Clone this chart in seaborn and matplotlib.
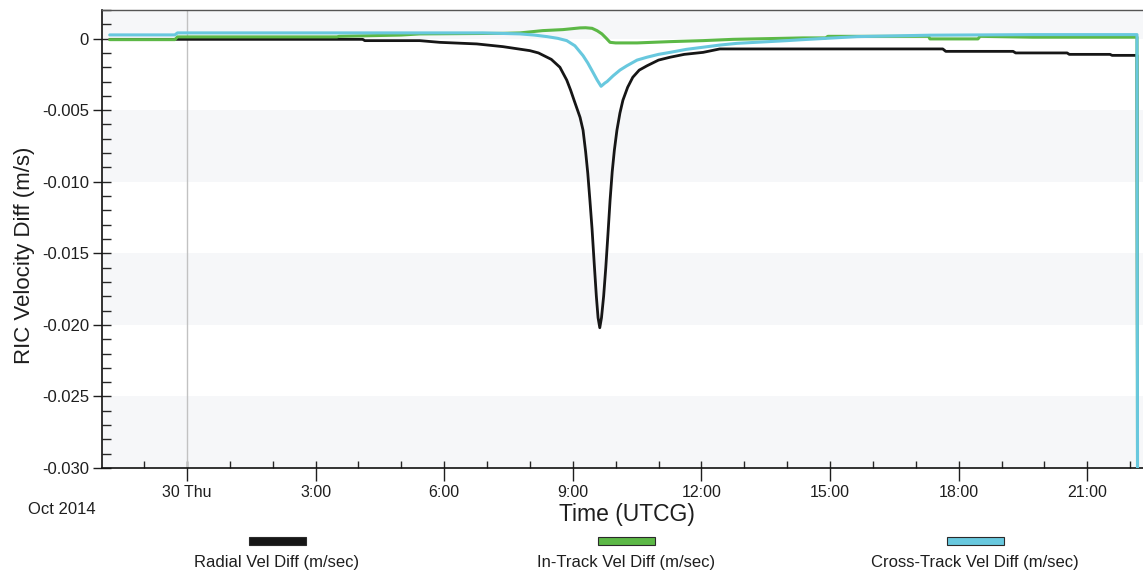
import matplotlib
matplotlib.use("Agg")
import matplotlib.pyplot as plt
from matplotlib.patches import Rectangle
from matplotlib.ticker import MultipleLocator
import seaborn as sns

# hours relative to 30 Oct 2014 00:00 UTCG
radial_t = [-1.80, 4.10, 4.15, 5.43, 5.90, 6.76, 7.37, 8.00, 8.20, 8.50, 8.70, 8.86, 8.95, 9.03,
            9.10, 9.17, 9.24, 9.30, 9.35, 9.40, 9.45, 9.50, 9.55, 9.59, 9.63, 9.67, 9.72, 9.77,
            9.82, 9.87, 9.92, 9.97, 10.03, 10.10, 10.17, 10.28, 10.40, 10.55, 10.73, 11.00,
            11.27, 11.60, 12.04, 12.43, 17.63, 17.70, 19.27, 19.33, 20.53, 20.58, 21.53, 21.58,
            22.16, 22.18]
radial_v = [-0.00005, -0.00005, -0.00014, -0.00014, -0.00026, -0.00037, -0.00056, -0.00084,
            -0.0010, -0.00145, -0.0020, -0.0029, -0.0036, -0.0043, -0.0049, -0.0055, -0.0064,
            -0.0079, -0.0094, -0.0113, -0.0133, -0.0157, -0.0180, -0.0195, -0.0202, -0.0195,
            -0.0180, -0.0160, -0.0137, -0.0113, -0.0093, -0.0078, -0.0064, -0.0052, -0.0043,
            -0.0034, -0.0027, -0.0022, -0.0019, -0.0015, -0.0013, -0.0011, -0.00096, -0.00072,
            -0.00072, -0.00089, -0.00089, -0.0010, -0.0010, -0.0011, -0.0011, -0.00117,
            -0.00117, -0.05]

intrack_t = [-1.80, -0.28, -0.22, 3.50, 3.55, 5.00, 5.43, 7.37, 7.77, 8.30, 8.77, 9.17, 9.30,
             9.45, 9.57, 9.68, 9.78, 9.87, 10.00, 10.50, 11.27, 12.04, 12.74, 14.37, 14.90,
             14.95, 17.30, 17.33, 18.45, 18.50, 19.73, 22.16, 22.18]
intrack_v = [-0.00007, -0.00007, 0.00012, 0.00012, 0.00016, 0.00025, 0.00033, 0.00037, 0.00040,
             0.00056, 0.00063, 0.00075, 0.00076, 0.00072, 0.00055, 0.00033, 0.00003, -0.00026,
             -0.00030, -0.00030, -0.00021, -0.00014, -0.00005, 0.00005, 0.00005, 0.00016,
             0.00016, -0.00002, -0.00002, 0.00016, 0.00010, 0.00010, -0.05]

cross_t = [-1.80, -0.28, -0.22, 6.90, 7.77, 8.10, 8.40, 8.65, 8.86, 9.05, 9.24, 9.35, 9.47,
           9.57, 9.66, 9.75, 9.80, 9.94, 10.10, 10.26, 10.50, 10.73, 11.00, 11.27, 11.65,
           12.04, 12.43, 12.83, 14.00, 14.37, 15.63, 17.33, 19.73, 22.16, 22.18]
cross_v = [0.00026, 0.00026, 0.00040, 0.00040, 0.00033, 0.00025, 0.00014, 0.00002, -0.00014,
           -0.0005, -0.00119, -0.0017, -0.00235, -0.0029, -0.00333, -0.0031, -0.0030, -0.0026,
           -0.0022, -0.0019, -0.0015, -0.0013, -0.0011, -0.00096, -0.00075, -0.0006, -0.00045,
           -0.00033, -0.00014, -0.00007, 0.00014, 0.00024, 0.00028, 0.00028, -0.05]

series_labels = ["Radial Vel Diff (m/sec)", "In-Track Vel Diff (m/sec)", "Cross-Track Vel Diff (m/sec)"]
series_colors = ["#161616", "#5cb846", "#68c8de"]

xtick_hours = [0, 3, 6, 9, 12, 15, 18, 21]
xtick_labels = ["30 Thu", "3:00", "6:00", "9:00", "12:00", "15:00", "18:00", "21:00"]
ytick_vals = [0, -0.005, -0.010, -0.015, -0.020, -0.025, -0.030]
ytick_labels = ["0", "-0.005", "-0.010", "-0.015", "-0.020", "-0.025", "-0.030"]

sns.set_style("white")
plt.rcParams["font.family"] = ["Liberation Sans", "DejaVu Sans"]

W, H = 1143, 573
fig = plt.figure(figsize=(W / 100, H / 100), dpi=100)
ax = fig.add_axes([102 / W, 1 - 468 / H, (W - 102) / W, 458 / H])

# alternating background bands
for lo, hi in [(0, 0.002), (-0.010, -0.005), (-0.020, -0.015), (-0.030, -0.025)]:
    ax.axhspan(lo, hi, color="#f6f7f9", lw=0, zorder=0)
ax.axvline(0, color="#c2c2c2", lw=1, zorder=1)

sns.lineplot(x=radial_t, y=radial_v, color=series_colors[0], linewidth=2.0, sort=False,
             estimator=None, ax=ax, zorder=3)
sns.lineplot(x=intrack_t, y=intrack_v, color=series_colors[1], linewidth=2.2, sort=False,
             estimator=None, ax=ax, zorder=4)
sns.lineplot(x=cross_t, y=cross_v, color=series_colors[2], linewidth=2.2, sort=False,
             estimator=None, ax=ax, zorder=5)

ax.set_xlim(-1.98, 22.30)
ax.set_ylim(-0.030, 0.002)

ax.set_xticks(xtick_hours)
ax.set_xticklabels(xtick_labels)
ax.xaxis.set_minor_locator(MultipleLocator(1))
ax.xaxis.remove_overlapping_locs = False
ax.set_yticks(ytick_vals)
ax.set_yticklabels(ytick_labels)
ax.yaxis.set_minor_locator(MultipleLocator(0.001))
ax.yaxis.remove_overlapping_locs = False

ax.tick_params(axis="x", which="major", direction="out", length=9, width=1, pad=3,
               labelsize=11.5, colors="#1e1e1e", bottom=True)
ax.tick_params(axis="x", which="minor", direction="in", length=4.7, width=1, bottom=True)
ax.tick_params(axis="y", which="major", direction="out", length=6.3, width=1, pad=3,
               labelsize=12, colors="#1e1e1e", left=True)
ax.tick_params(axis="y", which="minor", direction="in", length=6.8, width=1, left=True)

for side in ["left", "bottom"]:
    ax.spines[side].set_color("#111111")
    ax.spines[side].set_linewidth(1.2)
ax.spines["top"].set_color("#555555")
ax.spines["top"].set_linewidth(1)
ax.spines["right"].set_visible(False)

ax.set_xlabel("Time (UTCG)", fontsize=16.5, color="#1e1e1e")
ax.xaxis.set_label_coords((627 - 102) / 1041, (468 - 515) / 458)
ax.xaxis.label.set_va("center")
ax.set_ylabel("RIC Velocity Diff (m/s)", fontsize=16, color="#1e1e1e")
ax.yaxis.set_label_coords((25 - 102) / 1041, (468 - 255) / 458)
ax.yaxis.label.set_va("center")

fig.text(62 / W, 1 - 510 / H, "Oct 2014", fontsize=12, ha="center", va="center", color="#1e1e1e")

# legend: swatch above each label
for xc, color, label in zip([277, 626, 975], series_colors, series_labels):
    fig.add_artist(Rectangle(((xc - 28.5) / W, 1 - 545 / H), 57 / W, 8 / H, facecolor=color,
                             edgecolor="#2a2a2a", lw=0.8, transform=fig.transFigure))
    fig.text(xc / W, 1 - 563 / H, label, fontsize=12, ha="center", va="center", color="#1e1e1e")

fig.savefig("out.png", dpi=100)
